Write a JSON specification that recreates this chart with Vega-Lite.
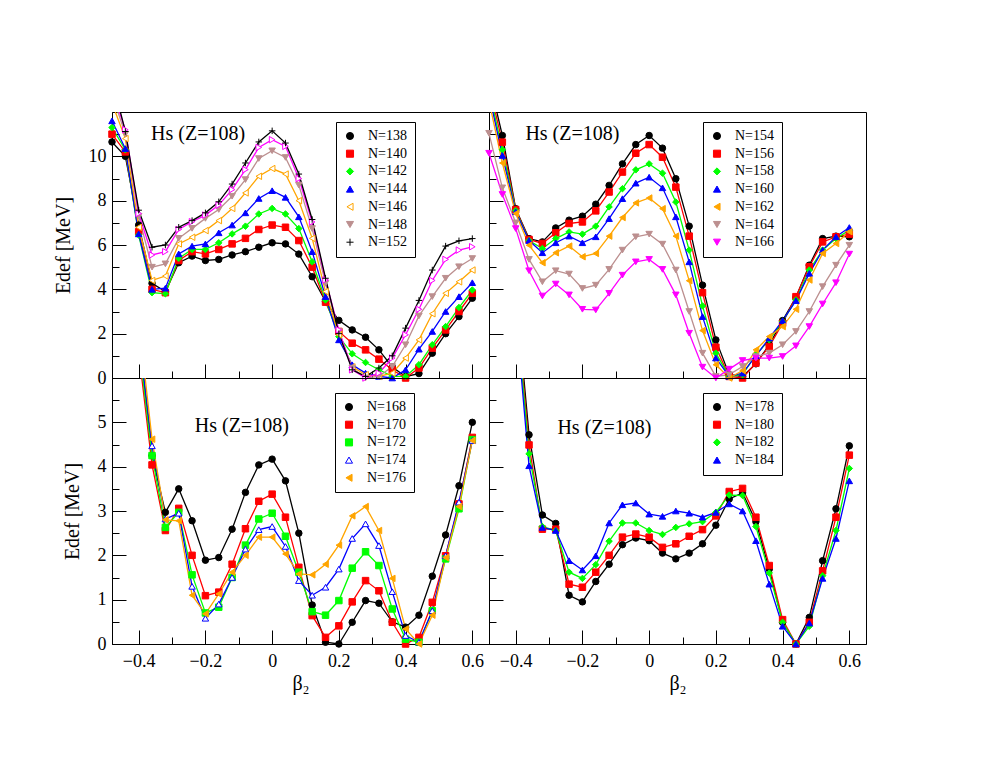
{
  "$schema": "https://vega.github.io/schema/vega-lite/v6.json",
  "padding": {"left": 52, "top": 111, "right": 5, "bottom": 5},
  "autosize": {"type": "pad"},
  "bounds": "flush",
  "spacing": 0,
  "columns": 2,
  "datasets": {
    "p1": [
      {"s":"N=138","b":-0.48,"E":10.65},{"s":"N=138","b":-0.44,"E":10},{"s":"N=138","b":-0.4,"E":6.9},{"s":"N=138","b":-0.36,"E":4.27},{"s":"N=138","b":-0.32,"E":3.9},{"s":"N=138","b":-0.28,"E":5.2},{"s":"N=138","b":-0.24,"E":5.5},{"s":"N=138","b":-0.2,"E":5.3},{"s":"N=138","b":-0.16,"E":5.35},{"s":"N=138","b":-0.12,"E":5.55},{"s":"N=138","b":-0.08,"E":5.7},{"s":"N=138","b":-0.04,"E":5.9},{"s":"N=138","b":0,"E":6.1},{"s":"N=138","b":0.04,"E":6.05},{"s":"N=138","b":0.08,"E":5.59},{"s":"N=138","b":0.12,"E":4.57},{"s":"N=138","b":0.16,"E":3.45},{"s":"N=138","b":0.2,"E":2.6},{"s":"N=138","b":0.24,"E":2.17},{"s":"N=138","b":0.28,"E":1.84},{"s":"N=138","b":0.32,"E":1.27},{"s":"N=138","b":0.36,"E":0.5},{"s":"N=138","b":0.4,"E":0.07},{"s":"N=138","b":0.44,"E":0.2},{"s":"N=138","b":0.48,"E":1.12},{"s":"N=138","b":0.52,"E":2},{"s":"N=138","b":0.56,"E":2.77},{"s":"N=138","b":0.6,"E":3.6},
      {"s":"N=140","b":-0.48,"E":11},{"s":"N=140","b":-0.44,"E":10.2},{"s":"N=140","b":-0.4,"E":6.6},{"s":"N=140","b":-0.36,"E":4},{"s":"N=140","b":-0.32,"E":3.85},{"s":"N=140","b":-0.28,"E":5.3},{"s":"N=140","b":-0.24,"E":5.7},{"s":"N=140","b":-0.2,"E":5.6},{"s":"N=140","b":-0.16,"E":5.8},{"s":"N=140","b":-0.12,"E":6.05},{"s":"N=140","b":-0.08,"E":6.3},{"s":"N=140","b":-0.04,"E":6.7},{"s":"N=140","b":0,"E":6.9},{"s":"N=140","b":0.04,"E":6.8},{"s":"N=140","b":0.08,"E":6.2},{"s":"N=140","b":0.12,"E":5},{"s":"N=140","b":0.16,"E":3.42},{"s":"N=140","b":0.2,"E":2.1},{"s":"N=140","b":0.24,"E":1.57},{"s":"N=140","b":0.28,"E":1.27},{"s":"N=140","b":0.32,"E":0.85},{"s":"N=140","b":0.36,"E":0.37},{"s":"N=140","b":0.4,"E":0},{"s":"N=140","b":0.44,"E":0.45},{"s":"N=140","b":0.48,"E":1.35},{"s":"N=140","b":0.52,"E":2.17},{"s":"N=140","b":0.56,"E":3},{"s":"N=140","b":0.6,"E":3.82},
      {"s":"N=142","b":-0.48,"E":11.3},{"s":"N=142","b":-0.44,"E":10.3},{"s":"N=142","b":-0.4,"E":6.45},{"s":"N=142","b":-0.36,"E":3.85},{"s":"N=142","b":-0.32,"E":3.8},{"s":"N=142","b":-0.28,"E":5.4},{"s":"N=142","b":-0.24,"E":5.8},{"s":"N=142","b":-0.2,"E":5.8},{"s":"N=142","b":-0.16,"E":6.1},{"s":"N=142","b":-0.12,"E":6.5},{"s":"N=142","b":-0.08,"E":6.85},{"s":"N=142","b":-0.04,"E":7.4},{"s":"N=142","b":0,"E":7.65},{"s":"N=142","b":0.04,"E":7.4},{"s":"N=142","b":0.08,"E":6.74},{"s":"N=142","b":0.12,"E":5.24},{"s":"N=142","b":0.16,"E":3.52},{"s":"N=142","b":0.2,"E":1.87},{"s":"N=142","b":0.24,"E":1.09},{"s":"N=142","b":0.28,"E":0.7},{"s":"N=142","b":0.32,"E":0.37},{"s":"N=142","b":0.36,"E":0.07},{"s":"N=142","b":0.4,"E":0.07},{"s":"N=142","b":0.44,"E":0.6},{"s":"N=142","b":0.48,"E":1.5},{"s":"N=142","b":0.52,"E":2.32},{"s":"N=142","b":0.56,"E":3.18},{"s":"N=142","b":0.6,"E":3.97},
      {"s":"N=144","b":-0.48,"E":11.6},{"s":"N=144","b":-0.44,"E":10.35},{"s":"N=144","b":-0.4,"E":6.5},{"s":"N=144","b":-0.36,"E":4},{"s":"N=144","b":-0.32,"E":4.05},{"s":"N=144","b":-0.28,"E":5.6},{"s":"N=144","b":-0.24,"E":5.95},{"s":"N=144","b":-0.2,"E":6.05},{"s":"N=144","b":-0.16,"E":6.55},{"s":"N=144","b":-0.12,"E":6.9},{"s":"N=144","b":-0.08,"E":7.45},{"s":"N=144","b":-0.04,"E":8.1},{"s":"N=144","b":0,"E":8.45},{"s":"N=144","b":0.04,"E":8.15},{"s":"N=144","b":0.08,"E":7.27},{"s":"N=144","b":0.12,"E":5.7},{"s":"N=144","b":0.16,"E":3.67},{"s":"N=144","b":0.2,"E":1.72},{"s":"N=144","b":0.24,"E":0.6},{"s":"N=144","b":0.28,"E":0.22},{"s":"N=144","b":0.32,"E":0.07},{"s":"N=144","b":0.36,"E":0},{"s":"N=144","b":0.4,"E":0.37},{"s":"N=144","b":0.44,"E":1.3},{"s":"N=144","b":0.48,"E":2.1},{"s":"N=144","b":0.52,"E":3},{"s":"N=144","b":0.56,"E":3.67},{"s":"N=144","b":0.6,"E":4.3},
      {"s":"N=146","b":-0.48,"E":12.4},{"s":"N=146","b":-0.44,"E":10.8},{"s":"N=146","b":-0.4,"E":6.8},{"s":"N=146","b":-0.36,"E":4.4},{"s":"N=146","b":-0.32,"E":4.6},{"s":"N=146","b":-0.28,"E":6.05},{"s":"N=146","b":-0.24,"E":6.35},{"s":"N=146","b":-0.2,"E":6.65},{"s":"N=146","b":-0.16,"E":7.1},{"s":"N=146","b":-0.12,"E":7.65},{"s":"N=146","b":-0.08,"E":8.35},{"s":"N=146","b":-0.04,"E":9.1},{"s":"N=146","b":0,"E":9.45},{"s":"N=146","b":0.04,"E":9.2},{"s":"N=146","b":0.08,"E":8},{"s":"N=146","b":0.12,"E":6.3},{"s":"N=146","b":0.16,"E":3.9},{"s":"N=146","b":0.2,"E":1.95},{"s":"N=146","b":0.24,"E":0.5},{"s":"N=146","b":0.28,"E":0.15},{"s":"N=146","b":0.32,"E":0.07},{"s":"N=146","b":0.36,"E":0.22},{"s":"N=146","b":0.4,"E":0.9},{"s":"N=146","b":0.44,"E":1.72},{"s":"N=146","b":0.48,"E":2.9},{"s":"N=146","b":0.52,"E":3.82},{"s":"N=146","b":0.56,"E":4.34},{"s":"N=146","b":0.6,"E":4.87},
      {"s":"N=148","b":-0.48,"E":12.8},{"s":"N=148","b":-0.44,"E":11},{"s":"N=148","b":-0.4,"E":7.3},{"s":"N=148","b":-0.36,"E":5},{"s":"N=148","b":-0.32,"E":5.15},{"s":"N=148","b":-0.28,"E":6.3},{"s":"N=148","b":-0.24,"E":6.75},{"s":"N=148","b":-0.2,"E":7.2},{"s":"N=148","b":-0.16,"E":7.6},{"s":"N=148","b":-0.12,"E":8.2},{"s":"N=148","b":-0.08,"E":8.95},{"s":"N=148","b":-0.04,"E":9.9},{"s":"N=148","b":0,"E":10.25},{"s":"N=148","b":0.04,"E":9.95},{"s":"N=148","b":0.08,"E":8.7},{"s":"N=148","b":0.12,"E":6.74},{"s":"N=148","b":0.16,"E":4.27},{"s":"N=148","b":0.2,"E":2.1},{"s":"N=148","b":0.24,"E":0.45},{"s":"N=148","b":0.28,"E":0},{"s":"N=148","b":0.32,"E":0.07},{"s":"N=148","b":0.36,"E":0.52},{"s":"N=148","b":0.4,"E":1.5},{"s":"N=148","b":0.44,"E":2.8},{"s":"N=148","b":0.48,"E":3.67},{"s":"N=148","b":0.52,"E":4.5},{"s":"N=148","b":0.56,"E":5.02},{"s":"N=148","b":0.6,"E":5.39},
      {"s":"N=150","b":-0.48,"E":13},{"s":"N=150","b":-0.44,"E":11.2},{"s":"N=150","b":-0.4,"E":7.42},{"s":"N=150","b":-0.36,"E":5.55},{"s":"N=150","b":-0.32,"E":5.7},{"s":"N=150","b":-0.28,"E":6.7},{"s":"N=150","b":-0.24,"E":7.05},{"s":"N=150","b":-0.2,"E":7.35},{"s":"N=150","b":-0.16,"E":7.8},{"s":"N=150","b":-0.12,"E":8.5},{"s":"N=150","b":-0.08,"E":9.4},{"s":"N=150","b":-0.04,"E":10.4},{"s":"N=150","b":0,"E":10.75},{"s":"N=150","b":0.04,"E":10.45},{"s":"N=150","b":0.08,"E":9},{"s":"N=150","b":0.12,"E":7.04},{"s":"N=150","b":0.16,"E":4.42},{"s":"N=150","b":0.2,"E":2.17},{"s":"N=150","b":0.24,"E":0.37},{"s":"N=150","b":0.28,"E":0},{"s":"N=150","b":0.32,"E":0.22},{"s":"N=150","b":0.36,"E":0.9},{"s":"N=150","b":0.4,"E":1.95},{"s":"N=150","b":0.44,"E":3.1},{"s":"N=150","b":0.48,"E":4.4},{"s":"N=150","b":0.52,"E":5.35},{"s":"N=150","b":0.56,"E":5.77},{"s":"N=150","b":0.6,"E":5.92},
      {"s":"N=152","b":-0.48,"E":13.5},{"s":"N=152","b":-0.44,"E":11.12},{"s":"N=152","b":-0.4,"E":7.57},{"s":"N=152","b":-0.36,"E":5.9},{"s":"N=152","b":-0.32,"E":6},{"s":"N=152","b":-0.28,"E":6.8},{"s":"N=152","b":-0.24,"E":7.1},{"s":"N=152","b":-0.2,"E":7.45},{"s":"N=152","b":-0.16,"E":7.95},{"s":"N=152","b":-0.12,"E":8.75},{"s":"N=152","b":-0.08,"E":9.7},{"s":"N=152","b":-0.04,"E":10.65},{"s":"N=152","b":0,"E":11.15},{"s":"N=152","b":0.04,"E":10.6},{"s":"N=152","b":0.08,"E":9.2},{"s":"N=152","b":0.12,"E":7.15},{"s":"N=152","b":0.16,"E":4.5},{"s":"N=152","b":0.2,"E":2},{"s":"N=152","b":0.24,"E":0.37},{"s":"N=152","b":0.28,"E":0.07},{"s":"N=152","b":0.32,"E":0.45},{"s":"N=152","b":0.36,"E":1},{"s":"N=152","b":0.4,"E":2.25},{"s":"N=152","b":0.44,"E":3.5},{"s":"N=152","b":0.48,"E":4.87},{"s":"N=152","b":0.52,"E":5.95},{"s":"N=152","b":0.56,"E":6.19},{"s":"N=152","b":0.6,"E":6.29}
    ],
    "p2": [
      {"s":"N=154","b":-0.48,"E":13.5},{"s":"N=154","b":-0.44,"E":10.94},{"s":"N=154","b":-0.4,"E":7.64},{"s":"N=154","b":-0.36,"E":6.29},{"s":"N=154","b":-0.32,"E":6.14},{"s":"N=154","b":-0.28,"E":6.77},{"s":"N=154","b":-0.24,"E":7.12},{"s":"N=154","b":-0.2,"E":7.3},{"s":"N=154","b":-0.16,"E":7.84},{"s":"N=154","b":-0.12,"E":8.69},{"s":"N=154","b":-0.08,"E":9.66},{"s":"N=154","b":-0.04,"E":10.53},{"s":"N=154","b":0,"E":10.94},{"s":"N=154","b":0.04,"E":10.37},{"s":"N=154","b":0.08,"E":8.99},{"s":"N=154","b":0.12,"E":6.85},{"s":"N=154","b":0.16,"E":4.19},{"s":"N=154","b":0.2,"E":1.72},{"s":"N=154","b":0.24,"E":0.15},{"s":"N=154","b":0.28,"E":0.07},{"s":"N=154","b":0.32,"E":0.64},{"s":"N=154","b":0.36,"E":1.5},{"s":"N=154","b":0.4,"E":2.59},{"s":"N=154","b":0.44,"E":3.64},{"s":"N=154","b":0.48,"E":5.09},{"s":"N=154","b":0.52,"E":6.29},{"s":"N=154","b":0.56,"E":6.4},{"s":"N=154","b":0.6,"E":6.37},
      {"s":"N=156","b":-0.48,"E":13.2},{"s":"N=156","b":-0.44,"E":10.64},{"s":"N=156","b":-0.4,"E":7.6},{"s":"N=156","b":-0.36,"E":6.25},{"s":"N=156","b":-0.32,"E":6.07},{"s":"N=156","b":-0.28,"E":6.55},{"s":"N=156","b":-0.24,"E":6.97},{"s":"N=156","b":-0.2,"E":7.04},{"s":"N=156","b":-0.16,"E":7.54},{"s":"N=156","b":-0.12,"E":8.39},{"s":"N=156","b":-0.08,"E":9.29},{"s":"N=156","b":-0.04,"E":10.14},{"s":"N=156","b":0,"E":10.53},{"s":"N=156","b":0.04,"E":9.96},{"s":"N=156","b":0.08,"E":8.61},{"s":"N=156","b":0.12,"E":6.4},{"s":"N=156","b":0.16,"E":3.85},{"s":"N=156","b":0.2,"E":1.39},{"s":"N=156","b":0.24,"E":0.07},{"s":"N=156","b":0.28,"E":0},{"s":"N=156","b":0.32,"E":0.67},{"s":"N=156","b":0.36,"E":1.42},{"s":"N=156","b":0.4,"E":2.47},{"s":"N=156","b":0.44,"E":3.67},{"s":"N=156","b":0.48,"E":5.02},{"s":"N=156","b":0.52,"E":6.14},{"s":"N=156","b":0.56,"E":6.37},{"s":"N=156","b":0.6,"E":6.49},
      {"s":"N=158","b":-0.48,"E":13},{"s":"N=158","b":-0.44,"E":10.3},{"s":"N=158","b":-0.4,"E":7.55},{"s":"N=158","b":-0.36,"E":6.2},{"s":"N=158","b":-0.32,"E":5.84},{"s":"N=158","b":-0.28,"E":6.29},{"s":"N=158","b":-0.24,"E":6.59},{"s":"N=158","b":-0.2,"E":6.49},{"s":"N=158","b":-0.16,"E":6.85},{"s":"N=158","b":-0.12,"E":7.72},{"s":"N=158","b":-0.08,"E":8.54},{"s":"N=158","b":-0.04,"E":9.39},{"s":"N=158","b":0,"E":9.66},{"s":"N=158","b":0.04,"E":9.24},{"s":"N=158","b":0.08,"E":7.94},{"s":"N=158","b":0.12,"E":5.77},{"s":"N=158","b":0.16,"E":3.25},{"s":"N=158","b":0.2,"E":1.12},{"s":"N=158","b":0.24,"E":0.07},{"s":"N=158","b":0.28,"E":0.15},{"s":"N=158","b":0.32,"E":1.05},{"s":"N=158","b":0.36,"E":1.72},{"s":"N=158","b":0.4,"E":2.55},{"s":"N=158","b":0.44,"E":3.52},{"s":"N=158","b":0.48,"E":4.87},{"s":"N=158","b":0.52,"E":5.77},{"s":"N=158","b":0.56,"E":6.29},{"s":"N=158","b":0.6,"E":6.67},
      {"s":"N=160","b":-0.48,"E":12.8},{"s":"N=160","b":-0.44,"E":10.04},{"s":"N=160","b":-0.4,"E":7.5},{"s":"N=160","b":-0.36,"E":6.2},{"s":"N=160","b":-0.32,"E":5.65},{"s":"N=160","b":-0.28,"E":6.1},{"s":"N=160","b":-0.24,"E":6.4},{"s":"N=160","b":-0.2,"E":6.1},{"s":"N=160","b":-0.16,"E":6.37},{"s":"N=160","b":-0.12,"E":7.19},{"s":"N=160","b":-0.08,"E":8.09},{"s":"N=160","b":-0.04,"E":8.79},{"s":"N=160","b":0,"E":9.06},{"s":"N=160","b":0.04,"E":8.58},{"s":"N=160","b":0.08,"E":7.27},{"s":"N=160","b":0.12,"E":5.24},{"s":"N=160","b":0.16,"E":2.77},{"s":"N=160","b":0.2,"E":0.9},{"s":"N=160","b":0.24,"E":0.07},{"s":"N=160","b":0.28,"E":0.22},{"s":"N=160","b":0.32,"E":1},{"s":"N=160","b":0.36,"E":1.8},{"s":"N=160","b":0.4,"E":2.59},{"s":"N=160","b":0.44,"E":3.49},{"s":"N=160","b":0.48,"E":4.72},{"s":"N=160","b":0.52,"E":5.77},{"s":"N=160","b":0.56,"E":6.37},{"s":"N=160","b":0.6,"E":6.79},
      {"s":"N=162","b":-0.48,"E":12.5},{"s":"N=162","b":-0.44,"E":9.7},{"s":"N=162","b":-0.4,"E":7.42},{"s":"N=162","b":-0.36,"E":5.99},{"s":"N=162","b":-0.32,"E":5.2},{"s":"N=162","b":-0.28,"E":5.65},{"s":"N=162","b":-0.24,"E":5.95},{"s":"N=162","b":-0.2,"E":5.47},{"s":"N=162","b":-0.16,"E":5.62},{"s":"N=162","b":-0.12,"E":6.4},{"s":"N=162","b":-0.08,"E":7.24},{"s":"N=162","b":-0.04,"E":7.9},{"s":"N=162","b":0,"E":8.12},{"s":"N=162","b":0.04,"E":7.64},{"s":"N=162","b":0.08,"E":6.4},{"s":"N=162","b":0.12,"E":4.39},{"s":"N=162","b":0.16,"E":2.14},{"s":"N=162","b":0.2,"E":0.6},{"s":"N=162","b":0.24,"E":0},{"s":"N=162","b":0.28,"E":0.34},{"s":"N=162","b":0.32,"E":1.27},{"s":"N=162","b":0.36,"E":1.87},{"s":"N=162","b":0.4,"E":2.32},{"s":"N=162","b":0.44,"E":3.1},{"s":"N=162","b":0.48,"E":4.42},{"s":"N=162","b":0.52,"E":5.62},{"s":"N=162","b":0.56,"E":6.07},{"s":"N=162","b":0.6,"E":6.6},
      {"s":"N=164","b":-0.48,"E":11.04},{"s":"N=164","b":-0.44,"E":8.58},{"s":"N=164","b":-0.4,"E":7},{"s":"N=164","b":-0.36,"E":5.35},{"s":"N=164","b":-0.32,"E":4.34},{"s":"N=164","b":-0.28,"E":4.84},{"s":"N=164","b":-0.24,"E":4.69},{"s":"N=164","b":-0.2,"E":4.04},{"s":"N=164","b":-0.16,"E":4.19},{"s":"N=164","b":-0.12,"E":4.9},{"s":"N=164","b":-0.08,"E":5.77},{"s":"N=164","b":-0.04,"E":6.37},{"s":"N=164","b":0,"E":6.49},{"s":"N=164","b":0.04,"E":6.04},{"s":"N=164","b":0.08,"E":4.87},{"s":"N=164","b":0.12,"E":3},{"s":"N=164","b":0.16,"E":1.12},{"s":"N=164","b":0.2,"E":0.07},{"s":"N=164","b":0.24,"E":0.15},{"s":"N=164","b":0.28,"E":0.52},{"s":"N=164","b":0.32,"E":0.97},{"s":"N=164","b":0.36,"E":1.12},{"s":"N=164","b":0.4,"E":1.5},{"s":"N=164","b":0.44,"E":2.1},{"s":"N=164","b":0.48,"E":3},{"s":"N=164","b":0.52,"E":4.12},{"s":"N=164","b":0.56,"E":5.09},{"s":"N=164","b":0.6,"E":5.99},
      {"s":"N=166","b":-0.48,"E":10.14},{"s":"N=166","b":-0.44,"E":8.28},{"s":"N=166","b":-0.4,"E":6.74},{"s":"N=166","b":-0.36,"E":4.84},{"s":"N=166","b":-0.32,"E":3.7},{"s":"N=166","b":-0.28,"E":4.24},{"s":"N=166","b":-0.24,"E":3.75},{"s":"N=166","b":-0.2,"E":3.1},{"s":"N=166","b":-0.16,"E":3.07},{"s":"N=166","b":-0.12,"E":3.82},{"s":"N=166","b":-0.08,"E":4.64},{"s":"N=166","b":-0.04,"E":5.24},{"s":"N=166","b":0,"E":5.35},{"s":"N=166","b":0.04,"E":4.9},{"s":"N=166","b":0.08,"E":3.75},{"s":"N=166","b":0.12,"E":2.02},{"s":"N=166","b":0.16,"E":0.49},{"s":"N=166","b":0.2,"E":0},{"s":"N=166","b":0.24,"E":0.4},{"s":"N=166","b":0.28,"E":0.79},{"s":"N=166","b":0.32,"E":0.9},{"s":"N=166","b":0.36,"E":0.9},{"s":"N=166","b":0.4,"E":0.97},{"s":"N=166","b":0.44,"E":1.45},{"s":"N=166","b":0.48,"E":2.32},{"s":"N=166","b":0.52,"E":3.34},{"s":"N=166","b":0.56,"E":4.3},{"s":"N=166","b":0.6,"E":5.59}
    ],
    "p3": [
      {"s":"N=168","b":-0.4,"E":7},{"s":"N=168","b":-0.36,"E":4.25},{"s":"N=168","b":-0.32,"E":2.97},{"s":"N=168","b":-0.28,"E":3.5},{"s":"N=168","b":-0.24,"E":2.78},{"s":"N=168","b":-0.2,"E":1.89},{"s":"N=168","b":-0.16,"E":1.95},{"s":"N=168","b":-0.12,"E":2.59},{"s":"N=168","b":-0.08,"E":3.42},{"s":"N=168","b":-0.04,"E":4.04},{"s":"N=168","b":0,"E":4.17},{"s":"N=168","b":0.04,"E":3.68},{"s":"N=168","b":0.08,"E":2.5},{"s":"N=168","b":0.12,"E":0.88},{"s":"N=168","b":0.16,"E":0.04},{"s":"N=168","b":0.2,"E":0},{"s":"N=168","b":0.24,"E":0.49},{"s":"N=168","b":0.28,"E":0.98},{"s":"N=168","b":0.32,"E":0.92},{"s":"N=168","b":0.36,"E":0.5},{"s":"N=168","b":0.4,"E":0.38},{"s":"N=168","b":0.44,"E":0.65},{"s":"N=168","b":0.48,"E":1.53},{"s":"N=168","b":0.52,"E":2.46},{"s":"N=168","b":0.56,"E":3.57},{"s":"N=168","b":0.6,"E":5},
      {"s":"N=170","b":-0.4,"E":6.6},{"s":"N=170","b":-0.36,"E":4.04},{"s":"N=170","b":-0.32,"E":2.56},{"s":"N=170","b":-0.28,"E":3.06},{"s":"N=170","b":-0.24,"E":2},{"s":"N=170","b":-0.2,"E":1.09},{"s":"N=170","b":-0.16,"E":1.17},{"s":"N=170","b":-0.12,"E":1.8},{"s":"N=170","b":-0.08,"E":2.6},{"s":"N=170","b":-0.04,"E":3.22},{"s":"N=170","b":0,"E":3.38},{"s":"N=170","b":0.04,"E":2.86},{"s":"N=170","b":0.08,"E":1.73},{"s":"N=170","b":0.12,"E":0.64},{"s":"N=170","b":0.16,"E":0.15},{"s":"N=170","b":0.2,"E":0.41},{"s":"N=170","b":0.24,"E":0.95},{"s":"N=170","b":0.28,"E":1.43},{"s":"N=170","b":0.32,"E":1.2},{"s":"N=170","b":0.36,"E":0.49},{"s":"N=170","b":0.4,"E":0},{"s":"N=170","b":0.44,"E":0.15},{"s":"N=170","b":0.48,"E":0.94},{"s":"N=170","b":0.52,"E":1.99},{"s":"N=170","b":0.56,"E":3.16},{"s":"N=170","b":0.6,"E":4.66},
      {"s":"N=172","b":-0.4,"E":6.8},{"s":"N=172","b":-0.36,"E":4.25},{"s":"N=172","b":-0.32,"E":2.63},{"s":"N=172","b":-0.28,"E":2.97},{"s":"N=172","b":-0.24,"E":1.56},{"s":"N=172","b":-0.2,"E":0.7},{"s":"N=172","b":-0.16,"E":0.83},{"s":"N=172","b":-0.12,"E":1.5},{"s":"N=172","b":-0.08,"E":2.23},{"s":"N=172","b":-0.04,"E":2.82},{"s":"N=172","b":0,"E":2.95},{"s":"N=172","b":0.04,"E":2.43},{"s":"N=172","b":0.08,"E":1.62},{"s":"N=172","b":0.12,"E":0.73},{"s":"N=172","b":0.16,"E":0.65},{"s":"N=172","b":0.2,"E":0.98},{"s":"N=172","b":0.24,"E":1.71},{"s":"N=172","b":0.28,"E":2.08},{"s":"N=172","b":0.32,"E":1.77},{"s":"N=172","b":0.36,"E":0.79},{"s":"N=172","b":0.4,"E":0.11},{"s":"N=172","b":0.44,"E":0.04},{"s":"N=172","b":0.48,"E":0.75},{"s":"N=172","b":0.52,"E":1.92},{"s":"N=172","b":0.56,"E":3.05},{"s":"N=172","b":0.6,"E":4.61},
      {"s":"N=174","b":-0.4,"E":7},{"s":"N=174","b":-0.36,"E":4.47},{"s":"N=174","b":-0.32,"E":2.82},{"s":"N=174","b":-0.28,"E":2.95},{"s":"N=174","b":-0.24,"E":1.3},{"s":"N=174","b":-0.2,"E":0.58},{"s":"N=174","b":-0.16,"E":0.9},{"s":"N=174","b":-0.12,"E":1.5},{"s":"N=174","b":-0.08,"E":2.14},{"s":"N=174","b":-0.04,"E":2.58},{"s":"N=174","b":0,"E":2.65},{"s":"N=174","b":0.04,"E":2.2},{"s":"N=174","b":0.08,"E":1.43},{"s":"N=174","b":0.12,"E":1.1},{"s":"N=174","b":0.16,"E":1.28},{"s":"N=174","b":0.2,"E":1.69},{"s":"N=174","b":0.24,"E":2.38},{"s":"N=174","b":0.28,"E":2.71},{"s":"N=174","b":0.32,"E":2.22},{"s":"N=174","b":0.36,"E":1.18},{"s":"N=174","b":0.4,"E":0.19},{"s":"N=174","b":0.44,"E":0.04},{"s":"N=174","b":0.48,"E":0.75},{"s":"N=174","b":0.52,"E":1.99},{"s":"N=174","b":0.56,"E":3.2},{"s":"N=174","b":0.6,"E":4.59},
      {"s":"N=176","b":-0.4,"E":7.3},{"s":"N=176","b":-0.36,"E":4.62},{"s":"N=176","b":-0.32,"E":2.8},{"s":"N=176","b":-0.28,"E":2.78},{"s":"N=176","b":-0.24,"E":1.1},{"s":"N=176","b":-0.2,"E":0.68},{"s":"N=176","b":-0.16,"E":1.13},{"s":"N=176","b":-0.12,"E":1.62},{"s":"N=176","b":-0.08,"E":2},{"s":"N=176","b":-0.04,"E":2.41},{"s":"N=176","b":0,"E":2.41},{"s":"N=176","b":0.04,"E":2.03},{"s":"N=176","b":0.08,"E":1.58},{"s":"N=176","b":0.12,"E":1.56},{"s":"N=176","b":0.16,"E":1.8},{"s":"N=176","b":0.2,"E":2.23},{"s":"N=176","b":0.24,"E":2.89},{"s":"N=176","b":0.28,"E":3.1},{"s":"N=176","b":0.32,"E":2.56},{"s":"N=176","b":0.36,"E":1.48},{"s":"N=176","b":0.4,"E":0.34},{"s":"N=176","b":0.44,"E":0},{"s":"N=176","b":0.48,"E":0.65},{"s":"N=176","b":0.52,"E":1.95},{"s":"N=176","b":0.56,"E":3.1},{"s":"N=176","b":0.6,"E":4.59}
    ],
    "p4": [
      {"s":"N=178","b":-0.4,"E":8},{"s":"N=178","b":-0.36,"E":4.72},{"s":"N=178","b":-0.32,"E":2.91},{"s":"N=178","b":-0.28,"E":2.72},{"s":"N=178","b":-0.24,"E":1.1},{"s":"N=178","b":-0.2,"E":0.95},{"s":"N=178","b":-0.16,"E":1.41},{"s":"N=178","b":-0.12,"E":1.8},{"s":"N=178","b":-0.08,"E":2.24},{"s":"N=178","b":-0.04,"E":2.39},{"s":"N=178","b":0,"E":2.33},{"s":"N=178","b":0.04,"E":2.05},{"s":"N=178","b":0.08,"E":1.92},{"s":"N=178","b":0.12,"E":2.05},{"s":"N=178","b":0.16,"E":2.26},{"s":"N=178","b":0.2,"E":2.68},{"s":"N=178","b":0.24,"E":3.27},{"s":"N=178","b":0.28,"E":3.41},{"s":"N=178","b":0.32,"E":2.76},{"s":"N=178","b":0.36,"E":1.69},{"s":"N=178","b":0.4,"E":0.49},{"s":"N=178","b":0.44,"E":0},{"s":"N=178","b":0.48,"E":0.6},{"s":"N=178","b":0.52,"E":1.88},{"s":"N=178","b":0.56,"E":3.05},{"s":"N=178","b":0.6,"E":4.47},
      {"s":"N=180","b":-0.4,"E":7.8},{"s":"N=180","b":-0.36,"E":4.49},{"s":"N=180","b":-0.32,"E":2.59},{"s":"N=180","b":-0.28,"E":2.59},{"s":"N=180","b":-0.24,"E":1.35},{"s":"N=180","b":-0.2,"E":1.28},{"s":"N=180","b":-0.16,"E":1.62},{"s":"N=180","b":-0.12,"E":2},{"s":"N=180","b":-0.08,"E":2.41},{"s":"N=180","b":-0.04,"E":2.48},{"s":"N=180","b":0,"E":2.41},{"s":"N=180","b":0.04,"E":2.18},{"s":"N=180","b":0.08,"E":2.26},{"s":"N=180","b":0.12,"E":2.43},{"s":"N=180","b":0.16,"E":2.58},{"s":"N=180","b":0.2,"E":2.89},{"s":"N=180","b":0.24,"E":3.44},{"s":"N=180","b":0.28,"E":3.51},{"s":"N=180","b":0.32,"E":2.86},{"s":"N=180","b":0.36,"E":1.77},{"s":"N=180","b":0.4,"E":0.55},{"s":"N=180","b":0.44,"E":0},{"s":"N=180","b":0.48,"E":0.49},{"s":"N=180","b":0.52,"E":1.65},{"s":"N=180","b":0.56,"E":2.86},{"s":"N=180","b":0.6,"E":4.26},
      {"s":"N=182","b":-0.4,"E":7.7},{"s":"N=182","b":-0.36,"E":4.29},{"s":"N=182","b":-0.32,"E":2.65},{"s":"N=182","b":-0.28,"E":2.56},{"s":"N=182","b":-0.24,"E":1.62},{"s":"N=182","b":-0.2,"E":1.48},{"s":"N=182","b":-0.16,"E":1.79},{"s":"N=182","b":-0.12,"E":2.32},{"s":"N=182","b":-0.08,"E":2.73},{"s":"N=182","b":-0.04,"E":2.73},{"s":"N=182","b":0,"E":2.56},{"s":"N=182","b":0.04,"E":2.47},{"s":"N=182","b":0.08,"E":2.63},{"s":"N=182","b":0.12,"E":2.71},{"s":"N=182","b":0.16,"E":2.76},{"s":"N=182","b":0.2,"E":2.97},{"s":"N=182","b":0.24,"E":3.36},{"s":"N=182","b":0.28,"E":3.35},{"s":"N=182","b":0.32,"E":2.65},{"s":"N=182","b":0.36,"E":1.6},{"s":"N=182","b":0.4,"E":0.49},{"s":"N=182","b":0.44,"E":0},{"s":"N=182","b":0.48,"E":0.4},{"s":"N=182","b":0.52,"E":1.54},{"s":"N=182","b":0.56,"E":2.56},{"s":"N=182","b":0.6,"E":3.96},
      {"s":"N=184","b":-0.4,"E":7.5},{"s":"N=184","b":-0.36,"E":4.02},{"s":"N=184","b":-0.32,"E":2.63},{"s":"N=184","b":-0.28,"E":2.56},{"s":"N=184","b":-0.24,"E":1.88},{"s":"N=184","b":-0.2,"E":1.67},{"s":"N=184","b":-0.16,"E":1.99},{"s":"N=184","b":-0.12,"E":2.73},{"s":"N=184","b":-0.08,"E":3.14},{"s":"N=184","b":-0.04,"E":3.18},{"s":"N=184","b":0,"E":2.93},{"s":"N=184","b":0.04,"E":2.88},{"s":"N=184","b":0.08,"E":3},{"s":"N=184","b":0.12,"E":2.95},{"s":"N=184","b":0.16,"E":2.86},{"s":"N=184","b":0.2,"E":2.97},{"s":"N=184","b":0.24,"E":3.16},{"s":"N=184","b":0.28,"E":3},{"s":"N=184","b":0.32,"E":2.33},{"s":"N=184","b":0.36,"E":1.35},{"s":"N=184","b":0.4,"E":0.4},{"s":"N=184","b":0.44,"E":0},{"s":"N=184","b":0.48,"E":0.47},{"s":"N=184","b":0.52,"E":1.48},{"s":"N=184","b":0.56,"E":2.38},{"s":"N=184","b":0.6,"E":3.68}
    ]
  },
  "concat": [
    {
      "width": 377, "height": 266,
      "data": {"name": "p1"},
      "resolve": {"axis": {"x": "independent", "y": "independent"}},
      "layer": [
        {"mark": {"type": "line", "clip": true, "strokeWidth": 1.3},
         "encoding": {
           "x": {"field": "b", "type": "quantitative", "scale": {"domain": [-0.48, 0.65], "nice": false, "zero": false},
             "axis": {"orient": "bottom", "values": [-0.4,-0.2,0,0.2,0.4,0.6], "labels": false, "title": null, "tickSize": -14}},
           "y": {"field": "E", "type": "quantitative", "scale": {"domain": [0, 12], "nice": false},
             "axis": {"orient": "left", "values": [0,2,4,6,8,10], "title": "Edef [MeV]", "tickSize": -14, "labelPadding": 20, "titlePadding": 15}},
           "stroke": {"field": "s", "type": "nominal",
             "scale": {"domain": ["N=138","N=140","N=142","N=144","N=146","N=148","N=150","N=152"], "range": ["#000000","#ff0000","#00ff00","#0000ff","#ffa500","#bc8f8f","#ff00ff","#000000"]}}}},
        {"transform": [{"filter": "datum.E <= 12"}],
         "mark": {"type": "point", "filled": true, "size": 42, "strokeWidth": 1, "opacity": 1},
         "encoding": {
           "x": {"field": "b", "type": "quantitative",
             "axis": {"orient": "bottom", "values": [-0.3,-0.1,0.1,0.3,0.5], "labels": false, "domain": false, "title": null, "tickSize": -7}},
           "y": {"field": "E", "type": "quantitative",
             "axis": {"orient": "left", "values": [1,3,5,7,9,11], "labels": false, "domain": false, "title": null, "tickSize": -7}},
           "stroke": {"field": "s", "type": "nominal"},
           "fill": {"field": "s", "type": "nominal",
             "scale": {"domain": ["N=138","N=140","N=142","N=144","N=146","N=148","N=150","N=152"], "range": ["#000000","#ff0000","#00ff00","#0000ff","#ffffff","#bc8f8f","#ffffff","transparent"]}},
           "shape": {"field": "s", "type": "nominal",
             "scale": {"domain": ["N=138","N=140","N=142","N=144","N=146","N=148","N=150","N=152"], "range": ["circle","square","diamond","triangle-up","triangle-left","triangle-down","triangle-right","M-1,0H1M0,-1V1"]},
             "legend": {"title": null, "orient": "none", "legendX": 224, "legendY": 10, "values": ["N=138","N=140","N=142","N=144","N=146","N=148","N=152"]}}
         }},
        {"data": {"values": [{"label": "Hs (Z=108)"}]},
         "mark": {"type": "text", "font": "Liberation Serif, DejaVu Serif, serif", "fontSize": 20},
         "encoding": {"x": {"datum": -0.222, "type": "quantitative", "axis": null}, "y": {"datum": 11.0, "type": "quantitative", "axis": null}, "text": {"field": "label"}}}
      ]
    },
    {
      "width": 377, "height": 266,
      "data": {"name": "p2"},
      "resolve": {"axis": {"x": "independent", "y": "independent"}},
      "layer": [
        {"mark": {"type": "line", "clip": true, "strokeWidth": 1.3},
         "encoding": {
           "x": {"field": "b", "type": "quantitative", "scale": {"domain": [-0.48, 0.65], "nice": false, "zero": false},
             "axis": {"orient": "bottom", "values": [-0.4,-0.2,0,0.2,0.4,0.6], "labels": false, "title": null, "tickSize": -14}},
           "y": {"field": "E", "type": "quantitative", "scale": {"domain": [0, 12], "nice": false},
             "axis": {"orient": "left", "values": [0,2,4,6,8,10], "labels": false, "title": null, "tickSize": -14}},
           "stroke": {"field": "s", "type": "nominal",
             "scale": {"domain": ["N=154","N=156","N=158","N=160","N=162","N=164","N=166"], "range": ["#000000","#ff0000","#00ff00","#0000ff","#ffa500","#bc8f8f","#ff00ff"]}}}},
        {"transform": [{"filter": "datum.E <= 12"}],
         "mark": {"type": "point", "filled": true, "size": 42, "strokeWidth": 1, "opacity": 1},
         "encoding": {
           "x": {"field": "b", "type": "quantitative",
             "axis": {"orient": "bottom", "values": [-0.3,-0.1,0.1,0.3,0.5], "labels": false, "domain": false, "title": null, "tickSize": -7}},
           "y": {"field": "E", "type": "quantitative",
             "axis": {"orient": "left", "values": [1,3,5,7,9,11], "labels": false, "domain": false, "title": null, "tickSize": -7}},
           "stroke": {"field": "s", "type": "nominal"},
           "fill": {"field": "s", "type": "nominal",
             "scale": {"domain": ["N=154","N=156","N=158","N=160","N=162","N=164","N=166"], "range": ["#000000","#ff0000","#00ff00","#0000ff","#ffa500","#bc8f8f","#ff00ff"]}},
           "shape": {"field": "s", "type": "nominal",
             "scale": {"domain": ["N=154","N=156","N=158","N=160","N=162","N=164","N=166"], "range": ["circle","square","diamond","triangle-up","triangle-left","triangle-down","triangle-down"]},
             "legend": {"title": null, "orient": "none", "legendX": 214, "legendY": 10}}
         }},
        {"data": {"values": [{"label": "Hs (Z=108)"}]},
         "mark": {"type": "text", "font": "Liberation Serif, DejaVu Serif, serif", "fontSize": 20},
         "encoding": {"x": {"datum": -0.23, "type": "quantitative", "axis": null}, "y": {"datum": 11.0, "type": "quantitative", "axis": null}, "text": {"field": "label"}}}
      ]
    },
    {
      "width": 377, "height": 266,
      "data": {"name": "p3"},
      "resolve": {"axis": {"x": "independent", "y": "independent"}},
      "layer": [
        {"mark": {"type": "line", "clip": true, "strokeWidth": 1.3},
         "encoding": {
           "x": {"field": "b", "type": "quantitative", "scale": {"domain": [-0.48, 0.65], "nice": false, "zero": false},
             "axis": {"orient": "bottom", "values": [-0.4,-0.2,0,0.2,0.4,0.6], "format": "~g", "title": "β₂", "tickSize": -14, "labelPadding": 22, "titlePadding": 3}},
           "y": {"field": "E", "type": "quantitative", "scale": {"domain": [0, 6], "nice": false},
             "axis": {"orient": "left", "values": [0,1,2,3,4,5], "title": "Edef [MeV]", "tickSize": -14, "labelPadding": 20, "titlePadding": 15}},
           "stroke": {"field": "s", "type": "nominal",
             "scale": {"domain": ["N=168","N=170","N=172","N=174","N=176"], "range": ["#000000","#ff0000","#00ff00","#0000ff","#ffa500"]}}}},
        {"transform": [{"filter": "datum.E <= 6"}],
         "mark": {"type": "point", "filled": true, "size": 42, "strokeWidth": 1, "opacity": 1},
         "encoding": {
           "x": {"field": "b", "type": "quantitative",
             "axis": {"orient": "bottom", "values": [-0.3,-0.1,0.1,0.3,0.5], "labels": false, "domain": false, "title": null, "tickSize": -7}},
           "y": {"field": "E", "type": "quantitative",
             "axis": {"orient": "left", "values": [0.5,1.5,2.5,3.5,4.5,5.5], "labels": false, "domain": false, "title": null, "tickSize": -7}},
           "stroke": {"field": "s", "type": "nominal"},
           "fill": {"field": "s", "type": "nominal",
             "scale": {"domain": ["N=168","N=170","N=172","N=174","N=176"], "range": ["#000000","#ff0000","#00ff00","#ffffff","#ffa500"]}},
           "shape": {"field": "s", "type": "nominal",
             "scale": {"domain": ["N=168","N=170","N=172","N=174","N=176"], "range": ["circle","square","square","triangle-up","triangle-left"]},
             "legend": {"title": null, "orient": "none", "legendX": 223, "legendY": 15}}
         }},
        {"data": {"values": [{"label": "Hs (Z=108)"}]},
         "mark": {"type": "text", "font": "Liberation Serif, DejaVu Serif, serif", "fontSize": 20},
         "encoding": {"x": {"datum": -0.091, "type": "quantitative", "axis": null}, "y": {"datum": 4.91, "type": "quantitative", "axis": null}, "text": {"field": "label"}}}
      ]
    },
    {
      "width": 377, "height": 266,
      "data": {"name": "p4"},
      "resolve": {"axis": {"x": "independent", "y": "independent"}},
      "layer": [
        {"mark": {"type": "line", "clip": true, "strokeWidth": 1.3},
         "encoding": {
           "x": {"field": "b", "type": "quantitative", "scale": {"domain": [-0.48, 0.65], "nice": false, "zero": false},
             "axis": {"orient": "bottom", "values": [-0.4,-0.2,0,0.2,0.4,0.6], "format": "~g", "title": "β₂", "tickSize": -14, "labelPadding": 22, "titlePadding": 3}},
           "y": {"field": "E", "type": "quantitative", "scale": {"domain": [0, 6], "nice": false},
             "axis": {"orient": "left", "values": [0,1,2,3,4,5], "labels": false, "title": null, "tickSize": -14}},
           "stroke": {"field": "s", "type": "nominal",
             "scale": {"domain": ["N=178","N=180","N=182","N=184"], "range": ["#000000","#ff0000","#00ff00","#0000ff"]}}}},
        {"transform": [{"filter": "datum.E <= 6"}],
         "mark": {"type": "point", "filled": true, "size": 42, "strokeWidth": 1, "opacity": 1},
         "encoding": {
           "x": {"field": "b", "type": "quantitative",
             "axis": {"orient": "bottom", "values": [-0.3,-0.1,0.1,0.3,0.5], "labels": false, "domain": false, "title": null, "tickSize": -7}},
           "y": {"field": "E", "type": "quantitative",
             "axis": {"orient": "left", "values": [0.5,1.5,2.5,3.5,4.5,5.5], "labels": false, "domain": false, "title": null, "tickSize": -7}},
           "stroke": {"field": "s", "type": "nominal"},
           "fill": {"field": "s", "type": "nominal",
             "scale": {"domain": ["N=178","N=180","N=182","N=184"], "range": ["#000000","#ff0000","#00ff00","#0000ff"]}},
           "shape": {"field": "s", "type": "nominal",
             "scale": {"domain": ["N=178","N=180","N=182","N=184"], "range": ["circle","square","diamond","triangle-up"]},
             "legend": {"title": null, "orient": "none", "legendX": 214, "legendY": 15}}
         }},
        {"data": {"values": [{"label": "Hs (Z=108)"}]},
         "mark": {"type": "text", "font": "Liberation Serif, DejaVu Serif, serif", "fontSize": 20},
         "encoding": {"x": {"datum": -0.134, "type": "quantitative", "axis": null}, "y": {"datum": 4.87, "type": "quantitative", "axis": null}, "text": {"field": "label"}}}
      ]
    }
  ],
  "resolve": {
    "scale": {"x": "independent", "y": "independent", "stroke": "independent", "fill": "independent", "shape": "independent"},
    "legend": {"stroke": "independent", "fill": "independent", "shape": "independent"}
  },
  "config": {
    "view": {"stroke": "#000000", "strokeWidth": 1},
    "axis": {"grid": false, "domainColor": "#000000", "tickColor": "#000000", "tickWidth": 1, "labelColor": "#000000", "titleColor": "#000000",
      "labelFont": "Liberation Serif, DejaVu Serif, serif", "labelFontSize": 18, "titleFont": "Liberation Serif, DejaVu Serif, serif", "titleFontSize": 20, "titleFontWeight": "normal"},
    "legend": {"strokeColor": "#000000", "fillColor": "#ffffff", "padding": 7, "labelFont": "Liberation Serif, DejaVu Serif, serif", "labelFontSize": 14,
      "labelColor": "#000000", "symbolSize": 50, "symbolStrokeWidth": 1, "rowPadding": 3.7, "labelOffset": 11, "cornerRadius": 0}
  }
}
